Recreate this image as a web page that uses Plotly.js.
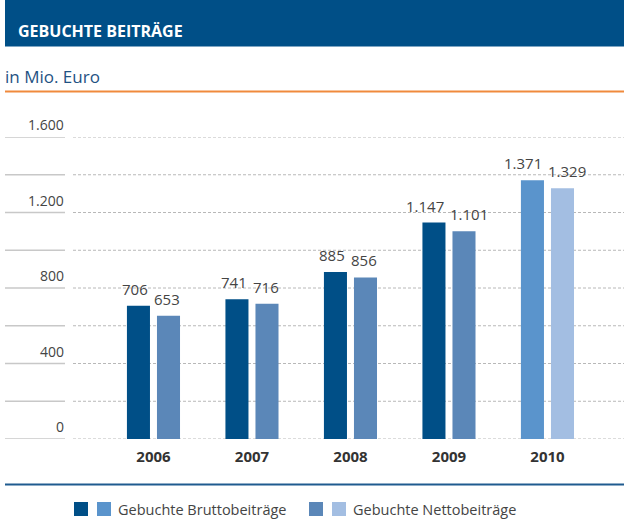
<!DOCTYPE html>
<html><head><meta charset="utf-8">
<script src="https://cdn.plot.ly/plotly-3.0.1.min.js"></script>
<style>html,body{margin:0;padding:0;background:#fff}#chart{width:624px;height:523px}</style>
</head><body><div id="chart"></div>
<script>
const years = ['2006','2007','2008','2009','2010'];
const brutto = [706, 741, 885, 1147, 1371];
const netto = [653, 716, 856, 1101, 1329];
const bruttoColors = ['#004f87','#004f87','#004f87','#004f87','#5a94cc'];
const nettoColors = ['#5b87b8','#5b87b8','#5b87b8','#5b87b8','#a3bee2'];
const gridValues = [0,200,400,600,800,1000,1200,1400,1600];
const labelValues = [0,400,800,1200,1600];
const titleText = 'GEBUCHTE BEITRÄGE';
const unitText = 'in Mio. Euro';
const legendBrutto = 'Gebuchte Bruttobeiträge';
const legendNetto = 'Gebuchte Nettobeiträge';

const W = 624, H = 523, L = 73, R = 0, T = 137, B = 84;
const pw = W - L - R, ph = H - T - B;
const px = x => (x - L) / pw;
const py = y => (H - B - y) / ph;
const fmt = v => String(v).replace(/\B(?=(\d{3})+(?!\d))/g, '.');
const font = '"Open Sans", "Noto Sans", sans-serif';

const traces = [
  {type:'bar', x:years, y:brutto, marker:{color:bruttoColors}, hoverinfo:'none', showlegend:false},
  {type:'bar', x:years, y:netto, marker:{color:nettoColors}, hoverinfo:'none', showlegend:false}
];

const shapes = [
  {type:'rect', xref:'paper', yref:'paper', x0:px(5), x1:px(624), y0:py(46.5), y1:py(0), fillcolor:'#004f87', line:{width:0}},
  {type:'line', xref:'paper', yref:'paper', x0:px(5), x1:px(624), y0:py(91.5), y1:py(91.5), line:{color:'#f08a3c', width:2}},
  {type:'line', xref:'paper', yref:'paper', x0:px(5), x1:px(624), y0:py(484.5), y1:py(484.5), line:{color:'#1f5b8f', width:2}},
  {type:'rect', xref:'paper', yref:'paper', x0:px(74), x1:px(88), y0:py(516), y1:py(502), fillcolor:bruttoColors[0], line:{width:0}},
  {type:'rect', xref:'paper', yref:'paper', x0:px(97), x1:px(111), y0:py(516), y1:py(502), fillcolor:bruttoColors[4], line:{width:0}},
  {type:'rect', xref:'paper', yref:'paper', x0:px(309), x1:px(323), y0:py(516), y1:py(502), fillcolor:nettoColors[0], line:{width:0}},
  {type:'rect', xref:'paper', yref:'paper', x0:px(332), x1:px(346), y0:py(516), y1:py(502), fillcolor:nettoColors[4], line:{width:0}}
];
gridValues.forEach(v => {
  shapes.push({type:'line', xref:'paper', yref:'y', x0:px(5), x1:px(65), y0:v, y1:v, line:{color:'#c8c8c8', width:1.5}});
  shapes.push({type:'line', xref:'paper', yref:'y', x0:0, x1:1, y0:v, y1:v, layer:'below', line:{color:'#b8b8b8', width:1, dash:'3px,2px'}});
});

const annotations = [
  {xref:'paper', yref:'paper', x:px(16), y:py(31.5), xanchor:'left', yanchor:'middle', text:'<b>'+titleText+'</b>', showarrow:false,
   font:{size:16, color:'#fff', family:font}},
  {xref:'paper', yref:'paper', x:px(3), y:py(76), xanchor:'left', yanchor:'middle', text:unitText, showarrow:false,
   font:{size:17, color:'#1f5283', family:font}},
  {xref:'paper', yref:'paper', x:px(116), y:py(509), xanchor:'left', yanchor:'middle', text:legendBrutto, showarrow:false,
   font:{size:14.5, color:'#444', family:font}},
  {xref:'paper', yref:'paper', x:px(351), y:py(509), xanchor:'left', yanchor:'middle', text:legendNetto, showarrow:false,
   font:{size:14.5, color:'#444', family:font}}
];
labelValues.forEach(v => annotations.push({xref:'paper', yref:'y', x:px(66), y:v, xanchor:'right', yanchor:'bottom', yshift:1,
  text:fmt(v), showarrow:false, font:{size:14, color:'#444', family:font}}));
years.forEach((yr, i) => {
  annotations.push({xref:'x', yref:'y', x:i, y:brutto[i], xanchor:'right', yanchor:'bottom', xshift:-3, yshift:5,
    text:fmt(brutto[i]), showarrow:false, font:{size:15, color:'#444', family:font}});
  annotations.push({xref:'x', yref:'y', x:i, y:netto[i], xanchor:'left', yanchor:'bottom', xshift:-1, yshift:5,
    text:fmt(netto[i]), showarrow:false, font:{size:15, color:'#444', family:font}});
});

const layout = {
  width:W, height:H, margin:{l:L, r:R, t:T, b:B, pad:0},
  paper_bgcolor:'#fff', plot_bgcolor:'rgba(0,0,0,0)', separators:',.',
  barmode:'group', bargap:0.39, bargroupgap:0.233,
  font:{family:font, color:'#444'},
  xaxis:{type:'category', range:[-0.817, 4.777], showgrid:false, showline:false, zeroline:false, ticks:'',
    tickfont:{size:15, color:'#333', family:font}, tickprefix:'<b>', ticksuffix:'</b>', ticklabelstandoff:7, fixedrange:true},
  yaxis:{range:[0,1600], showticklabels:false, showgrid:false, zeroline:false, showline:false, ticks:'', fixedrange:true},
  shapes:shapes, annotations:annotations, showlegend:false
};
Plotly.newPlot('chart', traces, layout, {staticPlot:true, displayModeBar:false});
</script></body></html>
